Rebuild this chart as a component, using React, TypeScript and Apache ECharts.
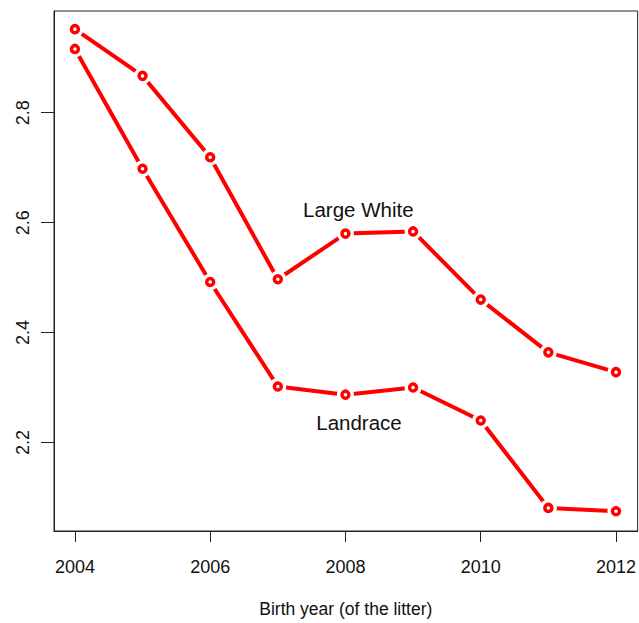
import React, { useEffect, useRef } from "react";
import * as echarts from "echarts";

const years = [2004, 2005, 2006, 2007, 2008, 2009, 2010, 2011, 2012];
const largeWhite = [2.952, 2.867, 2.719, 2.497, 2.58, 2.584, 2.46, 2.364, 2.328];
const landrace = [2.916, 2.698, 2.492, 2.302, 2.287, 2.3, 2.24, 2.081, 2.075];
const xTicks = [2004, 2006, 2008, 2010, 2012];
const yTicks = [2.2, 2.4, 2.6, 2.8];
const annotations: [number, number, string][] = [
  [2008.19, 2.623, "Large White"],
  [2008.2, 2.236, "Landrace"],
];

const RED = "#ff0000";
const INK = "#111111";
const FONT = "Liberation Sans, Arial, sans-serif";

export default function App() {
  const ref = useRef<HTMLDivElement>(null);
  useEffect(() => {
    if (!ref.current) return;
    const chart = echarts.init(ref.current, undefined, { renderer: "svg" });
    const pts = (vals: number[]) => years.map((y, i) => [y, vals[i]]);
    const lineSeries = (name: string, vals: number[]) => ({
      type: "line",
      name,
      data: pts(vals),
      lineStyle: { color: RED, width: 4 },
      symbol: "none",
      z: 1,
    });
    const coverSeries = (name: string, vals: number[]) => ({
      type: "scatter",
      name: name + " gap",
      data: pts(vals),
      symbol: "circle",
      symbolSize: 17,
      itemStyle: { color: "#ffffff", borderWidth: 0, opacity: 1 },
      silent: true,
      z: 3,
    });
    const ringSeries = (name: string, vals: number[]) => ({
      type: "scatter",
      name: name + " pts",
      data: pts(vals),
      symbol: "circle",
      symbolSize: 7,
      itemStyle: { color: "#ffffff", borderColor: RED, borderWidth: 3.5, opacity: 1 },
      z: 4,
    });
    chart.setOption({
      animation: false,
      backgroundColor: "#ffffff",
      textStyle: { fontFamily: FONT },
      grid: {
        left: 54,
        top: 11,
        width: 587,
        height: 523,
        show: true,
        borderColor: "#222",
        borderWidth: 1,
        containLabel: false,
      },
      xAxis: {
        type: "value",
        min: 2003.691,
        max: 2012.32,
        name: "Birth year (of the litter)",
        nameLocation: "middle",
        nameGap: 69,
        nameTextStyle: { color: INK, fontSize: 17.5, fontFamily: FONT, verticalAlign: "top" },
        axisLine: { show: true, lineStyle: { color: "#222", width: 1 } },
        axisTick: {
          show: true,
          length: 11,
          customValues: xTicks,
          lineStyle: { color: "#222", width: 1 },
        },
        axisLabel: {
          show: true,
          customValues: xTicks,
          color: INK,
          fontSize: 18,
          fontFamily: FONT,
          margin: 27,
          formatter: (v: number) => String(Math.round(v)),
        },
        splitLine: { show: false },
      },
      yAxis: {
        type: "value",
        min: 2.039,
        max: 2.985,
        axisLine: { show: true, lineStyle: { color: "#222", width: 1 } },
        axisTick: {
          show: true,
          length: 13,
          customValues: yTicks,
          lineStyle: { color: "#222", width: 1 },
        },
        axisLabel: {
          show: true,
          customValues: yTicks,
          rotate: 90,
          color: INK,
          fontSize: 18,
          fontFamily: FONT,
          margin: 22,
          formatter: (v: number) => v.toFixed(1),
        },
        splitLine: { show: false },
      },
      series: [
        lineSeries("Large White", largeWhite),
        lineSeries("Landrace", landrace),
        coverSeries("Large White", largeWhite),
        coverSeries("Landrace", landrace),
        ringSeries("Large White", largeWhite),
        ringSeries("Landrace", landrace),
        {
          type: "scatter",
          name: "annotations",
          data: annotations.map((a) => ({ value: [a[0], a[1]], name: a[2] })),
          symbolSize: 0,
          silent: true,
          itemStyle: { opacity: 1 },
          label: {
            show: true,
            position: "inside",
            formatter: (p: any) => p.name,
            color: INK,
            opacity: 1,
            textBorderWidth: 0,
            textBorderColor: "transparent",
            fontSize: 20.5,
            fontFamily: FONT,
          },
          z: 5,
        },
      ],
    });
    return () => chart.dispose();
  }, []);
  return (
    <div
      ref={ref}
      style={{ position: "absolute", left: 0, top: 0, width: 639, height: 623 }}
    />
  );
}
